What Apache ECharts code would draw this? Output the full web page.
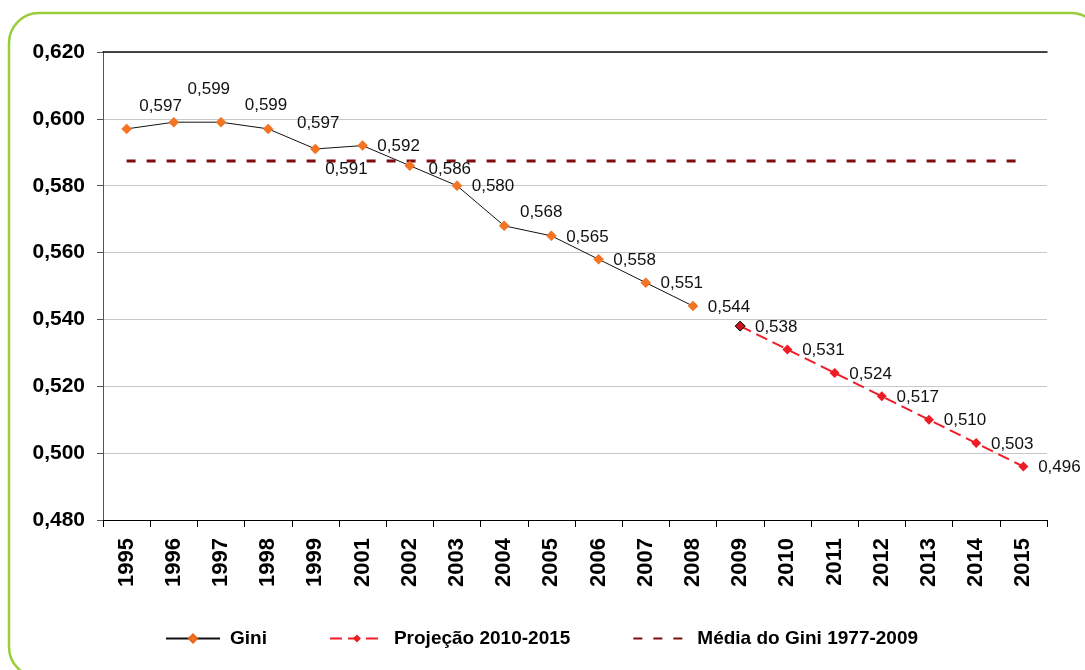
<!DOCTYPE html>
<html>
<head>
<meta charset="utf-8">
<title>Gini 1995-2015</title>
<script src="https://cdn.jsdelivr.net/npm/echarts@6/dist/echarts.min.js"></script>
<style>
  html, body { margin: 0; padding: 0; background: #fff; }
  #chart { width: 1085px; height: 670px; }
</style>
</head>
<body>
<div id="chart"></div>
<script>
const years = [
  "1995", "1996", "1997", "1998", "1999", "2001", "2002", "2003", "2004", "2005",
  "2006", "2007", "2008", "2009", "2010", "2011", "2012", "2013", "2014", "2015"
];

const giniValues = [
  0.597, 0.599, 0.599, 0.597, 0.591, 0.592, 0.586, 0.580, 0.568, 0.565,
  0.558, 0.551, 0.544, null, null, null, null, null, null, null
];

const projectionValues = [
  null, null, null, null, null, null, null, null, null, null,
  null, null, null, 0.538, 0.531, 0.524, 0.517, 0.510, 0.503, 0.496
];

const giniMean = 0.5874;

const yTicks = { min: 0.48, max: 0.62, step: 0.02 };

// where the labels sit relative to their point (Excel placed them by hand)
const labelNudges = {
  "1995": [34, -23],
  "1996": [35, -33],
  "1997": [45, -17],
  "1998": [50, -6],
  "1999": [31, 20],
  "2002": [40, 4],
  "2004": [37, -14]
};
const defaultNudge = [36, 1];

const FONT = "'Liberation Sans', Arial, sans-serif";

const formatGini = (value) => Number(value).toFixed(3).replace(".", ",");

function withLabels(values, extra) {
  return values.map((value, index) => {
    if (value == null) return null;
    const item = {
      value,
      label: { offset: labelNudges[years[index]] || defaultNudge }
    };
    if (extra && extra[years[index]]) Object.assign(item, extra[years[index]]);
    return item;
  });
}

const pointLabel = {
  show: true,
  position: "inside",
  formatter: (p) => formatGini(p.value),
  fontFamily: FONT,
  fontSize: 17,
  color: "#111"
};

const chart = echarts.init(document.getElementById("chart"));

chart.setOption({
  animation: false,
  textStyle: { fontFamily: FONT },
  graphic: [
    {
      type: "rect",
      shape: { x: 9, y: 13, width: 1092, height: 664, r: 30 },
      style: { fill: "none", stroke: "#9acd3a", lineWidth: 2.5 },
      silent: true,
      z: -10
    }
  ],
  grid: { left: 103, right: 38, top: 52, bottom: 150 },
  legend: {
    left: 160,
    top: 624,
    itemWidth: 54,
    itemHeight: 10,
    itemGap: 62,
    textStyle: {
      fontFamily: FONT,
      fontSize: 19,
      fontWeight: "bold",
      color: "#000",
      padding: [0, 0, 0, 5]
    },
    data: [
      "Gini",
      "Projeção 2010-2015",
      { name: "Média do Gini 1977-2009", itemStyle: { opacity: 0 } }
    ]
  },
  xAxis: [
    {
      type: "category",
      data: years,
      boundaryGap: true,
      axisLine: { lineStyle: { color: "#000", width: 1 } },
      axisTick: { show: true, length: 7, alignWithLabel: false, lineStyle: { color: "#000" } },
      axisLabel: {
        rotate: 90,
        margin: 18,
        interval: 0,
        fontFamily: FONT,
        fontSize: 22,
        fontWeight: "bold",
        color: "#000"
      },
      splitLine: { show: false }
    },
    {
      // dark line along the top of the plot area
      type: "category",
      position: "top",
      data: years,
      axisLine: { lineStyle: { color: "#111", width: 1.5 } },
      axisTick: { show: false },
      axisLabel: { show: false }
    }
  ],
  yAxis: {
    type: "value",
    min: yTicks.min,
    max: yTicks.max,
    interval: yTicks.step,
    axisLine: { show: true, lineStyle: { color: "#555", width: 1 } },
    axisTick: { show: true, length: 6, lineStyle: { color: "#555" } },
    axisLabel: {
      formatter: formatGini,
      margin: 18,
      fontFamily: FONT,
      fontSize: 21,
      fontWeight: "bold",
      color: "#000"
    },
    splitLine: { lineStyle: { color: "#c8c8c8", width: 1 } }
  },
  series: [
    {
      name: "Média do Gini 1977-2009",
      type: "line",
      data: years.map(() => giniMean),
      symbol: "none",
      lineStyle: { color: "#7f0d0d", width: 3, type: [9, 11] },
      itemStyle: { color: "#7f0d0d" },
      z: 1
    },
    {
      name: "Gini",
      type: "line",
      data: withLabels(giniValues),
      symbol: "diamond",
      symbolSize: 10,
      connectNulls: false,
      lineStyle: { color: "#111", width: 1 },
      itemStyle: { color: "#f47421", borderColor: "#e8661a", borderWidth: 0.5 },
      label: pointLabel,
      z: 3
    },
    {
      name: "Projeção 2010-2015",
      type: "line",
      data: withLabels(projectionValues, {
        "2009": {
          itemStyle: { color: "#c8141c", borderColor: "#000", borderWidth: 1 }
        }
      }),
      symbol: "diamond",
      symbolSize: 10,
      lineStyle: { color: "#ee1c25", width: 2, type: [12, 6] },
      itemStyle: { color: "#ee1c25" },
      label: pointLabel,
      z: 3
    }
  ]
});
</script>
</body>
</html>
